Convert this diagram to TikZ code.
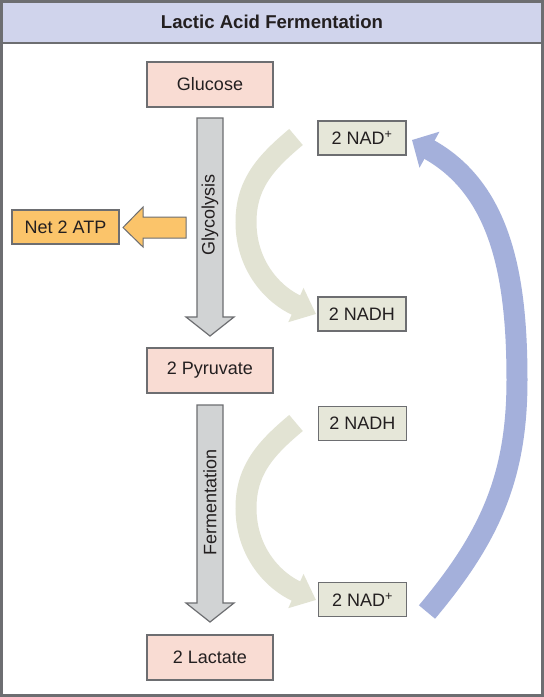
\documentclass[tikz,border=0pt]{standalone}
\usepackage{fontspec}
\setmainfont{Liberation Sans}
\usetikzlibrary{arrows.meta}
\definecolor{framecol}{HTML}{6D6E71}
\definecolor{titlebg}{HTML}{D0D4EC}
\definecolor{pinkbox}{HTML}{F9DCD3}
\definecolor{nadbox}{HTML}{E6E7D9}
\definecolor{bigarrow}{HTML}{D1D3D4}
\definecolor{atpcol}{HTML}{FBC46A}
\definecolor{arcgray}{HTML}{E2E3D3}
\definecolor{arcblue}{HTML}{A4B0DB}
\definecolor{textcol}{HTML}{231F20}
\tikzset{
  txt/.style={font=\fontsize{18}{20}\selectfont, text=textcol},
  pinkstyle/.style={txt, draw=framecol, line width=1.6pt, fill=pinkbox, minimum width=126pt, minimum height=45pt, inner sep=0pt},
  nadstyle/.style={txt, draw=framecol, line width=1.6pt, fill=nadbox, minimum width=88pt, minimum height=34pt, inner sep=0pt},
  atpstyle/.style={txt, draw=framecol, line width=1.2pt, fill=atpcol, minimum width=107pt, minimum height=34pt, inner sep=0pt},
  flowarrow/.style={draw=framecol, line width=1.2pt, fill=bigarrow, line join=miter},
  grayarc/.style={line width=21pt, arcgray, -{Triangle[width=36pt,length=22pt]}},
  bluearc/.style={line width=21pt, arcblue, -{Triangle[width=40pt,length=20pt]}}
}
\begin{document}
\begin{tikzpicture}[x=1pt,y=1pt]
\useasboundingbox (0,0) rectangle (544,-697);
\fill[white] (0,0) rectangle (544,-697);
% title band
\fill[titlebg] (2,-2) rectangle (542,-43);
\draw[framecol, line width=2pt] (1.5,-43) -- (542.5,-43);
\draw[framecol, line width=3pt] (1.5,-1.5) rectangle (542.5,-695.5);
\node[txt, font=\bfseries\fontsize{18.6}{20}\selectfont] (title) at (272,-22) {Lactic Acid Fermentation};

% curved arrows
\draw[grayarc] (296,-137) to[out=220,in=90] (246,-222) to[out=-90,in=156] (316,-314);
\draw[grayarc] (296,-423) to[out=220,in=90] (246,-508) to[out=-90,in=156] (316,-600);
\draw[bluearc] (427,-612) to[out=50,in=-90] (517,-380) to[out=90,in=-29] (412,-140);

% boxes
\node[pinkstyle] (glucose) at (210,-84.5) {Glucose};
\node[pinkstyle] (pyruvate) at (210,-370.5) {2 Pyruvate};
\node[pinkstyle] (lactate) at (210,-657.5) {2 Lactate};
\node[nadstyle] (nadA) at (362,-138) {2 NAD\textsuperscript{+}};
\node[nadstyle] (nadhA) at (362,-314) {2 NADH};
\node[nadstyle] (nadhB) at (362.5,-423.5) {2 NADH};
\node[nadstyle] (nadB) at (362.5,-599.5) {2 NAD\textsuperscript{+}};
\node[atpstyle] (atp) at (65.5,-227) {Net 2 ATP};

% glycolysis arrow
\draw[flowarrow] (197,-118) -- (223,-118) -- (223,-317) -- (234,-317) -- (210,-336) -- (186,-317) -- (197,-317) -- cycle;
\node[txt, rotate=90] (glyc) at (210,-215) {Glycolysis};
% fermentation arrow
\draw[flowarrow] (197,-405) -- (223,-405) -- (223,-603) -- (234,-603) -- (210,-622) -- (186,-603) -- (197,-603) -- cycle;
\node[txt, rotate=90] (ferm) at (210,-502) {Fermentation};
% ATP arrow
\draw[draw=framecol, line width=1pt, fill=atpcol, line join=miter] (186,-217) -- (186,-238) -- (143,-238) -- (143,-247) -- (123,-227.5) -- (143,-207) -- (143,-217) -- cycle;
\end{tikzpicture}
\end{document}
